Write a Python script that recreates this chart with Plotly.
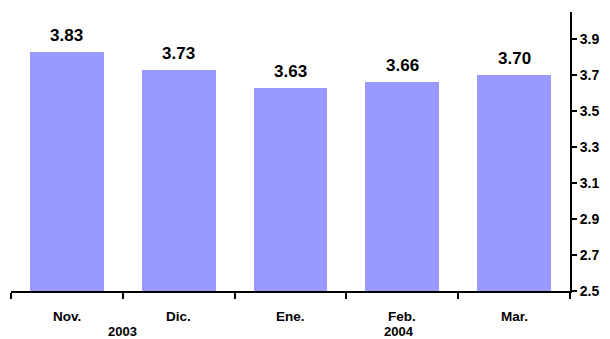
import plotly.graph_objects as go

months = ["Nov.", "Dic.", "Ene.", "Feb.", "Mar."]
values = [3.83, 3.73, 3.63, 3.66, 3.70]
years = ["2003", "2004"]
y_ticks = [2.5, 2.7, 2.9, 3.1, 3.3, 3.5, 3.7, 3.9]

FONT = "Liberation Sans, Arial, sans-serif"
x_pos = list(range(len(months)))

fig = go.Figure()
fig.add_trace(go.Bar(
    x=x_pos, y=values, width=0.66,
    marker=dict(color="#9999FF", line=dict(width=0)),
    hoverinfo="skip",
))

# value labels above each bar
for x, v in zip(x_pos, values):
    fig.add_annotation(x=x, y=v, text=f"<b>{v:.2f}</b>", showarrow=False,
                       yanchor="bottom", yshift=5,
                       font=dict(family=FONT, size=17, color="black"))

# month labels under the axis
for x, m in zip(x_pos, months):
    fig.add_annotation(x=x, y=0, yref="paper", text=f"<b>{m}</b>", showarrow=False,
                       yanchor="middle", yshift=-25, borderpad=0,
                       font=dict(family=FONT, size=13.5, color="black"))

# year labels on a second row
for x, yr in zip([0.5, 2.97], years):
    fig.add_annotation(x=x, y=0, yref="paper", text=f"<b>{yr}</b>", showarrow=False,
                       yanchor="middle", yshift=-40.5, borderpad=0,
                       font=dict(family=FONT, size=13, color="black"))

fig.update_layout(
    width=610, height=339,
    margin=dict(l=11, r=36, t=12, b=48),
    paper_bgcolor="white", plot_bgcolor="white",
    showlegend=False, bargap=0,
    xaxis=dict(
        range=[-0.5, len(months) - 0.5],
        tickvals=[i - 0.5 for i in range(len(months) + 1)],
        ticktext=[""] * (len(months) + 1),
        ticks="outside", ticklen=6, tickwidth=2, tickcolor="black",
        showline=True, linecolor="black", linewidth=2,
        showgrid=False, zeroline=False, fixedrange=True,
    ),
    yaxis=dict(
        side="right", range=[2.5, 4.05],
        tickvals=y_ticks, ticktext=[f"<b>{t:.1f}</b>" for t in y_ticks],
        ticks="outside", ticklen=5, tickwidth=2, tickcolor="black",
        showline=True, linecolor="black", linewidth=2,
        showgrid=False, zeroline=False, fixedrange=True,
        tickfont=dict(family=FONT, size=14, color="black"),
    ),
)

fig.write_html("out.html")
